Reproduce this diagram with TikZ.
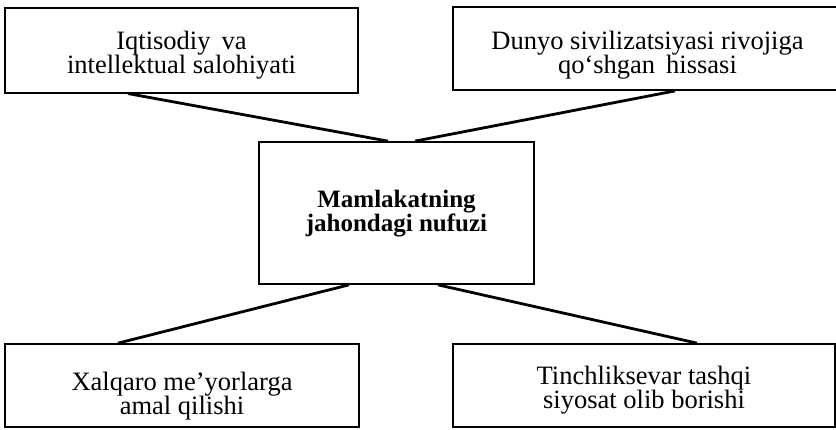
\documentclass[tikz,border=0pt]{standalone}
\usepackage{fontspec}
\setmainfont{Liberation Serif}
\newcommand\tightlines{\lineskiplimit -100pt\relax}
\usetikzlibrary{positioning}
\begin{document}
\begin{tikzpicture}[ -, x=1pt, y=1pt,
                    main/.style = {draw, line width=1.7pt, align=center, inner sep=0pt, text depth=0pt,
                    font=\fontsize{26.5}{24}\selectfont\tightlines},
                    link/.style = {line width=2.8pt}]
\useasboundingbox (0,0) rectangle (836,429);
    \node[main, minimum width=275pt, minimum height=142pt, text depth=4pt,
      font=\fontsize{25}{24}\selectfont\bfseries\tightlines] (m) at (396.5,216) {Mamlakatning\\jahondagi nufuzi};
\node[main, minimum width=353pt, minimum height=85pt] (iq) at (181.5,378.8) {\rule{0pt}{22pt}Iqtisodiy\, va\\intellektual salohiyati};
\node[main, minimum width=389pt, minimum height=83.3pt] (du) at (647.5,380.6) {\rule{0pt}{26pt}Dunyo sivilizatsiyasi rivojiga\\qo‘shgan\, hissasi};
\node[main, minimum width=354pt, minimum height=83pt] (xa) at (182,43.5) {\rule{0pt}{33pt}Xalqaro me’yorlarga\\amal qilishi};
\node[main, minimum width=382pt, minimum height=83pt] (ti) at (644,43.5) {\rule{0pt}{22pt}Tinchliksevar tashqi\\siyosat olib borishi};
    \path[link]
([xshift=-53.5pt]iq.south) edge ([xshift=-8.5pt]m.north)
([xshift=27.5pt]du.south) edge ([xshift=18.5pt]m.north)
([xshift=-47.5pt]m.south) edge ([xshift=-64pt]xa.north)
([xshift=41.5pt]m.south) edge ([xshift=53pt]ti.north);
\end{tikzpicture}
\end{document}
